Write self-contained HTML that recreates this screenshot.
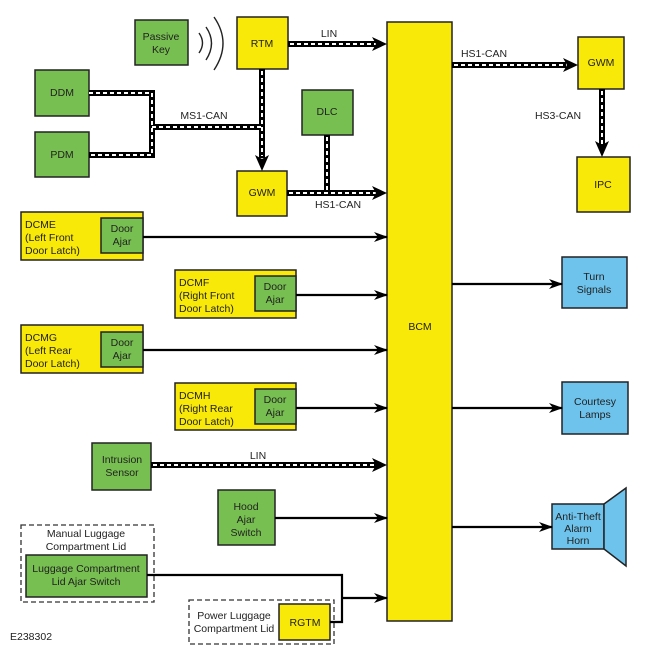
<!DOCTYPE html>
<html><head><meta charset="utf-8"><style>
html,body{margin:0;padding:0;background:#fff}
svg{display:block}
text{font-family:"Liberation Sans",sans-serif;font-size:10.5px;fill:#222}
</style></head><body>
<svg width="650" height="650" viewBox="0 0 650 650" xmlns="http://www.w3.org/2000/svg">
<defs>
<marker id="ar" markerWidth="14" markerHeight="10" refX="13" refY="5" orient="auto" markerUnits="userSpaceOnUse">
<path d="M0,0 L14,5 L0,10 L4,5 Z" fill="#000"/></marker>
</defs>
<g stroke="#222" stroke-width="1.5">
<rect x="387" y="22" width="65" height="599" fill="#f9e908"/>
<rect x="237" y="17" width="51" height="52" fill="#f9e908"/>
<rect x="135" y="20" width="53" height="45" fill="#77bf50"/>
<rect x="35" y="70" width="54" height="46" fill="#77bf50"/>
<rect x="35" y="132" width="54" height="45" fill="#77bf50"/>
<rect x="302" y="90" width="51" height="45" fill="#77bf50"/>
<rect x="237" y="171" width="50" height="45" fill="#f9e908"/>
<rect x="578" y="37" width="46" height="52" fill="#f9e908"/>
<rect x="577" y="157" width="53" height="55" fill="#f9e908"/>
<rect x="21" y="212" width="122" height="48" fill="#f9e908"/>
<rect x="101" y="218" width="42" height="35" fill="#77bf50"/>
<rect x="175" y="270" width="121" height="48" fill="#f9e908"/>
<rect x="255" y="276" width="41" height="35" fill="#77bf50"/>
<rect x="21" y="325" width="122" height="48" fill="#f9e908"/>
<rect x="101" y="332" width="42" height="35" fill="#77bf50"/>
<rect x="175" y="383" width="121" height="47" fill="#f9e908"/>
<rect x="255" y="389" width="41" height="35" fill="#77bf50"/>
<rect x="92" y="443" width="59" height="47" fill="#77bf50"/>
<rect x="218" y="490" width="57" height="55" fill="#77bf50"/>
<rect x="26" y="555" width="121" height="42" fill="#77bf50"/>
<rect x="279" y="604" width="51" height="36" fill="#f9e908"/>
<rect x="562" y="257" width="65" height="51" fill="#6ec3ec"/>
<rect x="562" y="382" width="66" height="52" fill="#6ec3ec"/>
<rect x="552" y="504" width="52" height="45" fill="#6ec3ec"/>
<polygon points="604,504 626,488 626,566 604,549" fill="#6ec3ec"/>
</g>
<g fill="none" stroke="#333" stroke-width="1.3" stroke-dasharray="5,3">
<rect x="21" y="525" width="133" height="77"/>
<rect x="189" y="600" width="145" height="44"/>
</g>
<g fill="none" stroke="#222" stroke-width="1.4">
<path d="M199,33 Q206,43 199,53"/>
<path d="M206,27 Q217,43 206,60"/>
<path d="M214,17 Q232,43 214,70"/>
</g>
<g fill="none" stroke="#000" stroke-width="6">
<path d="M288,44 L378,44"/>
<path d="M89,93 L152,93 L152,155 L89,155"/>
<path d="M152,127 L262,127"/>
<path d="M262,69 L262,158"/>
<path d="M287,193 L378,193"/>
<path d="M327,135 L327,193"/>
<path d="M452,65 L566,65"/>
<path d="M602,89 L602,146"/>
<path d="M151,465 L378,465"/>
</g>
<g fill="none" stroke="#fff" stroke-width="2" stroke-dasharray="4,3">
<path d="M290,44 L376,44"/>
<path d="M89,93 L152,93 L152,155 L89,155"/>
<path d="M152,127 L262,127"/>
<path d="M262,71 L262,156"/>
<path d="M289,193 L376,193"/>
<path d="M327,137 L327,190"/>
<path d="M454,65 L564,65"/>
<path d="M602,91 L602,144"/>
<path d="M153,465 L376,465"/>
</g>
<g fill="#000">
<path d="M387,44 L372,37 L376,44 L372,51 Z"/>
<path d="M387,193 L372,186 L376,193 L372,200 Z"/>
<path d="M578,65 L563,58 L567,65 L563,72 Z"/>
<path d="M387,465 L372,458 L376,465 L372,472 Z"/>
<path d="M262,171 L255,155 L262,159 L269,155 Z"/>
<path d="M602,157 L595,141 L602,145 L609,141 Z"/>
</g>
<g fill="none" stroke="#000" stroke-width="2.2" marker-end="url(#ar)">
<path d="M143,237 L387,237"/>
<path d="M296,295 L387,295"/>
<path d="M143,350 L387,350"/>
<path d="M296,408 L387,408"/>
<path d="M275,518 L387,518"/>
<path d="M342,598 L387,598"/>
<path d="M452,284 L562,284"/>
<path d="M452,408 L562,408"/>
<path d="M452,527 L552,527"/>
</g>
<path d="M147,575 L342,575 L342,622 L330,622" fill="none" stroke="#000" stroke-width="2.2"/>
<g text-anchor="middle">
<text x="420" y="330">BCM</text>
<text x="262" y="47">RTM</text>
<text x="161" y="40">Passive</text><text x="161" y="53">Key</text>
<text x="62" y="96">DDM</text>
<text x="62" y="158">PDM</text>
<text x="327" y="115">DLC</text>
<text x="262" y="196">GWM</text>
<text x="601" y="66">GWM</text>
<text x="603" y="188">IPC</text>
<text x="204" y="119">MS1-CAN</text>
<text x="338" y="208">HS1-CAN</text>
<text x="329" y="37">LIN</text>
<text x="484" y="57">HS1-CAN</text>
<text x="558" y="119">HS3-CAN</text>
<text x="258" y="459">LIN</text>
<text x="122" y="232">Door</text><text x="122" y="245">Ajar</text>
<text x="275" y="290">Door</text><text x="275" y="303">Ajar</text>
<text x="122" y="346">Door</text><text x="122" y="359">Ajar</text>
<text x="275" y="403">Door</text><text x="275" y="416">Ajar</text>
<text x="122" y="463">Intrusion</text><text x="122" y="476">Sensor</text>
<text x="246" y="510">Hood</text><text x="246" y="523">Ajar</text><text x="246" y="536">Switch</text>
<text x="86" y="537">Manual Luggage</text><text x="86" y="550">Compartment Lid</text>
<text x="86" y="572">Luggage Compartment</text><text x="86" y="585">Lid Ajar Switch</text>
<text x="234" y="619">Power Luggage</text><text x="234" y="632">Compartment Lid</text>
<text x="305" y="626">RGTM</text>
<text x="594" y="280">Turn</text><text x="594" y="293">Signals</text>
<text x="595" y="405">Courtesy</text><text x="595" y="418">Lamps</text>
<text x="578" y="520">Anti-Theft</text><text x="578" y="532">Alarm</text><text x="578" y="544">Horn</text>
</g>
<text x="25" y="228">DCME</text><text x="25" y="241">(Left Front</text><text x="25" y="254">Door Latch)</text>
<text x="179" y="286">DCMF</text><text x="179" y="299">(Right Front</text><text x="179" y="312">Door Latch)</text>
<text x="25" y="341">DCMG</text><text x="25" y="354">(Left Rear</text><text x="25" y="367">Door Latch)</text>
<text x="179" y="399">DCMH</text><text x="179" y="412">(Right Rear</text><text x="179" y="425">Door Latch)</text>
<text x="10" y="640">E238302</text>
</svg>
</body></html>
